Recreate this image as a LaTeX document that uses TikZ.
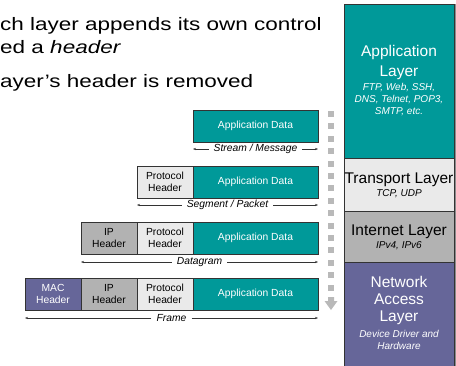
\documentclass[tikz,border=0pt]{standalone}
\usepackage{fontspec}
\setmainfont{Liberation Sans}
\usetikzlibrary{positioning,arrows.meta}

\definecolor{tealdata}{RGB}{0,153,153}
\definecolor{protgray}{RGB}{234,234,234}
\definecolor{ipgray}{RGB}{178,178,178}
\definecolor{macpurple}{RGB}{102,102,153}
\definecolor{dotgray}{RGB}{185,185,185}

\tikzset{
  toptext/.style={anchor=base west, inner sep=0pt, font=\fontsize{18}{22}\selectfont},
  pkt/.style={draw=black!80, line width=0.6pt, minimum height=32pt, inner sep=0pt, outer sep=0pt,
    align=center, anchor=north west, font=\fontsize{10.3}{11.5}\selectfont},
  appdata/.style={pkt, fill=tealdata, text=white, minimum width=125pt},
  prothdr/.style={pkt, fill=protgray, minimum width=56pt},
  iphdr/.style={pkt, fill=ipgray, minimum width=56pt},
  machdr/.style={pkt, fill=macpurple, text=white, minimum width=56pt},
  spanlabel/.style={font=\fontsize{10.3}{12}\selectfont\itshape, inner sep=5pt},
  spanarrow/.style={-{Stealth[length=3pt,width=2.2pt]}, line width=0.4pt, black!80},
  layer/.style={draw=black!80, line width=0.6pt, minimum width=110pt, inner sep=0pt, outer sep=0pt, anchor=north west},
  laytitle/.style={align=center, inner sep=0pt},
  layproto/.style={align=center, inner sep=0pt, font=\fontsize{10}{12}\selectfont\itshape},
}

\begin{document}
\begin{tikzpicture}[x=1pt,y=-1pt]
  \useasboundingbox (0,0) rectangle (456,365);
  \clip (0,0) rectangle (456,365);

  % Bullet text, cut at the left edge
  \node[toptext] (line1) at (0,30) {\scalebox{1.25}[1]{ch layer appends its own control}};
  \node[toptext] (line2) at (0,53) {\scalebox{1.25}[1]{ed a \textit{header}}};
  \node[toptext] (line3) at (0,87) {\scalebox{1.25}[1]{ayer’s header is removed}};

  % Row 1: stream / message
  \node[appdata] (d1) at (193,110) {Application Data};
  \node[spanlabel] (l1) at (255.5,149) {Stream / Message};
  \draw[spanarrow] (l1.west) -- (l1 -| d1.west);
  \draw[spanarrow] (l1.east) -- (l1 -| d1.east);

  % Row 2: segment / packet
  \node[prothdr] (p2) at (137,166) {Protocol\\Header};
  \node[appdata] (d2) at (193,166) {Application Data};
  \node[spanlabel] (l2) at (227.5,205) {Segment / Packet};
  \draw[spanarrow] (l2.west) -- (l2 -| p2.west);
  \draw[spanarrow] (l2.east) -- (l2 -| d2.east);

  % Row 3: datagram
  \node[iphdr] (i3) at (81,222) {IP\\Header};
  \node[prothdr] (p3) at (137,222) {Protocol\\Header};
  \node[appdata] (d3) at (193,222) {Application Data};
  \node[spanlabel] (l3) at (199.5,262) {Datagram};
  \draw[spanarrow] (l3.west) -- (l3 -| i3.west);
  \draw[spanarrow] (l3.east) -- (l3 -| d3.east);

  % Row 4: frame
  \node[machdr] (m4) at (25,278) {MAC\\Header};
  \node[iphdr] (i4) at (81,278) {IP\\Header};
  \node[prothdr] (p4) at (137,278) {Protocol\\Header};
  \node[appdata] (d4) at (193,278) {Application Data};
  \node[spanlabel] (l4) at (171.5,318) {Frame};
  \draw[spanarrow] (l4.west) -- (l4 -| m4.west);
  \draw[spanarrow] (l4.east) -- (l4 -| d4.east);

  % Dotted arrow going down
  \foreach \k in {0,...,14}
    \fill[dotgray] (328,{111+12.4*\k}) rectangle ++(6,6);
  \fill[dotgray] (328,297) -- (334,297) -- (334,301) -- (337.5,301) -- (331,310)
    -- (324.5,301) -- (328,301) -- cycle;

  % Layer stack
  \node[layer, fill=tealdata, minimum height=154pt] (appl) at (344,4) {};
  \node[layer, fill=protgray, minimum height=53pt] (tran) at (344,158) {};
  \node[layer, fill=ipgray, minimum height=51pt] (inet) at (344,211) {};
  \node[layer, fill=macpurple, minimum height=104pt] (netw) at (344,262) {};
  \draw[black!45, line width=1pt] (appl.north east) ++(1,0) -- (netw.south east -| 455,0);

  \node[laytitle, text=white, font=\fontsize{15.5}{20}\selectfont] (appname) at (399,62) {Application\\Layer};
  \node[layproto, text=white] (appproto) at (399,100) {FTP, Web, SSH,\\DNS, Telnet, POP3,\\SMTP, etc.};
  \node[laytitle, font=\fontsize{15.5}{18}\selectfont] (tranname) at (399,180) {Transport Layer};
  \node[layproto] (tranproto) at (399,194) {TCP, UDP};
  \node[laytitle, font=\fontsize{15.5}{18}\selectfont] (inetname) at (399,232) {Internet Layer};
  \node[layproto] (inetproto) at (399,246) {IPv4, IPv6};
  \node[laytitle, text=white, font=\fontsize{15.5}{17}\selectfont] (netwname) at (399,300) {Network\\Access\\Layer};
  \node[layproto, text=white, font=\fontsize{10}{11.5}\selectfont\itshape] (netwproto) at (399,340) {Device Driver and\\Hardware};
\end{tikzpicture}
\end{document}
